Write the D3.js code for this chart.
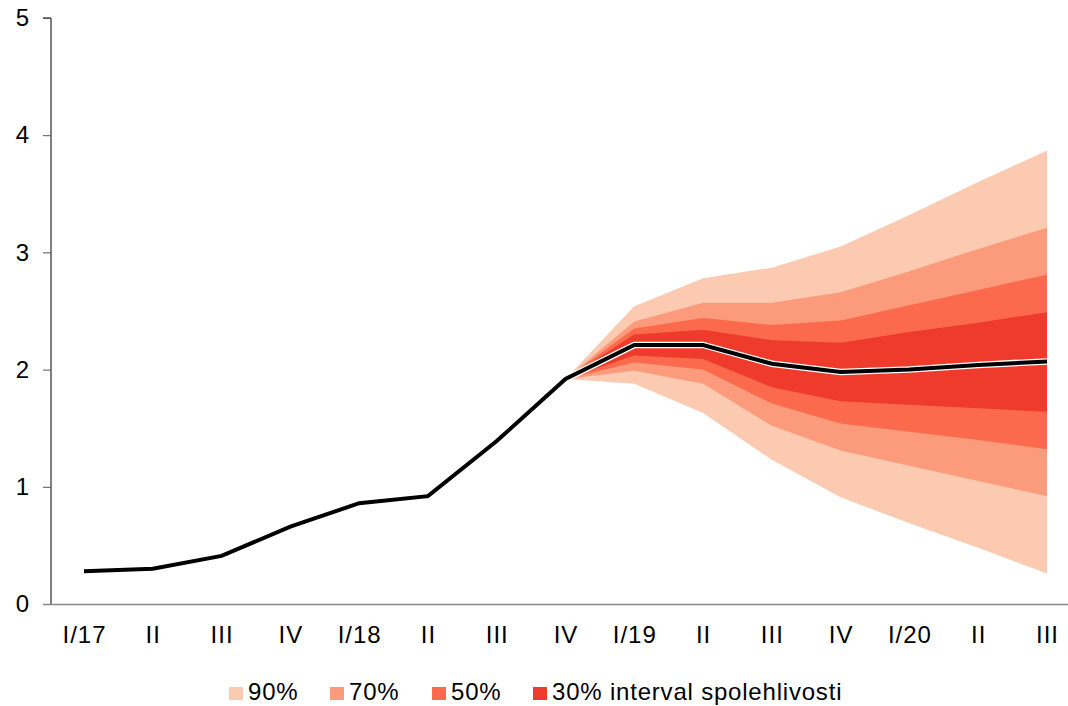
<!DOCTYPE html>
<html>
<head>
<meta charset="utf-8">
<script src="https://cdn.jsdelivr.net/npm/d3@7"></script>
<style>
  html, body { margin: 0; padding: 0; background: #fff; }
  svg { display: block; font-family: "Liberation Sans", Arial, sans-serif; }
</style>
</head>
<body>
<svg id="chart" width="1068" height="706"></svg>
<script>
// ---- data ----
const categories = ["I/17","II","III","IV","I/18","II","III","IV","I/19","II","III","IV","I/20","II","III"];
const lineValues = [0.28, 0.30, 0.41, 0.66, 0.86, 0.92, 1.39, 1.92, 2.21, 2.21, 2.05, 1.98, 2.00, 2.04, 2.07];
const yTicks = [0, 1, 2, 3, 4, 5];
// fan starts at index 7 (IV/18)
const fanStart = 7;
const hi90 = [1.92, 2.54, 2.78, 2.87, 3.05, 3.32, 3.60, 3.87];
const hi70 = [1.92, 2.41, 2.57, 2.57, 2.66, 2.84, 3.03, 3.21];
const hi50 = [1.92, 2.35, 2.44, 2.38, 2.42, 2.55, 2.68, 2.81];
const hi30 = [1.92, 2.30, 2.34, 2.25, 2.23, 2.32, 2.40, 2.49];
const lo30 = [1.92, 2.12, 2.09, 1.85, 1.73, 1.70, 1.67, 1.64];
const lo50 = [1.92, 2.06, 2.00, 1.71, 1.54, 1.47, 1.40, 1.32];
const lo70 = [1.92, 1.99, 1.88, 1.52, 1.31, 1.18, 1.05, 0.92];
const lo90 = [1.92, 1.88, 1.63, 1.23, 0.91, 0.69, 0.48, 0.26];
const bandLabels = ["90%", "70%", "50%", "30% interval spolehlivosti"];
const bandColors = ["#fccab1", "#fc9b7b", "#fb6a4c", "#ef3b2c"];

// ---- drawing ----
const svg = d3.select("#chart");
const x = d3.scalePoint().domain(d3.range(categories.length)).range([84, 1047]);
const y = d3.scaleLinear().domain([0, 5]).range([604, 18]);

const bands = [[lo90, hi90], [lo70, hi70], [lo50, hi50], [lo30, hi30]];
const area = d3.area()
  .x(d => x(d.i))
  .y0(d => y(d.lo))
  .y1(d => y(d.hi));

bands.forEach(([lo, hi], k) => {
  const pts = lo.map((v, j) => ({ i: fanStart + j, lo: v, hi: hi[j] }));
  svg.append("path")
    .attr("d", area(pts))
    .attr("fill", bandColors[k]);
});

// y axis
const yAxis = d3.axisLeft(y).tickValues(yTicks).tickSize(8).tickFormat(d3.format("d"));
const gy = svg.append("g").attr("transform", "translate(51,0)").call(yAxis);
gy.select(".domain").attr("stroke", "#000").attr("stroke-width", 1).attr("d", "M-8,18H0V604");
gy.selectAll(".tick line").attr("stroke", "#555");
gy.selectAll(".tick text").attr("font-size", 24).attr("fill", "#000").attr("x", -22)
  .attr("font-family", "Liberation Sans, Arial, sans-serif");

// x axis
const xAxis = d3.axisBottom(x).tickSize(0).tickFormat(i => categories[i]);
const gx = svg.append("g").attr("transform", "translate(0,604)").call(xAxis);
gx.select(".domain").attr("d", "M43,0.5H1068").attr("stroke", "#888").attr("stroke-width", 1.5);
gx.selectAll(".tick text").attr("font-size", 24).attr("letter-spacing", 1).attr("fill", "#000")
  .attr("dy", 0).attr("y", 39)
  .attr("font-family", "Liberation Sans, Arial, sans-serif");

// line with white halo on the forecast part
const pts = lineValues.map((v, i) => ({ v, i }));
const line = d3.line().x(d => x(d.i)).y(d => y(d.v));
svg.append("path")
  .attr("d", line(pts.filter(d => d.i >= fanStart)))
  .attr("fill", "none").attr("stroke", "#fff").attr("stroke-width", 6.5);
svg.append("path")
  .attr("d", line(pts))
  .attr("fill", "none").attr("stroke", "#000").attr("stroke-width", 4);

// legend
const legendX = [229, 330, 432, 533];
const lg = svg.append("g");
bandLabels.forEach((lab, k) => {
  lg.append("rect").attr("x", legendX[k]).attr("y", 687).attr("width", 14).attr("height", 13)
    .attr("fill", bandColors[k]);
  lg.append("text").attr("x", legendX[k] + 19).attr("y", 700).attr("font-size", 24)
    .attr("letter-spacing", 0.8).attr("fill", "#000").text(lab);
});
</script>
</body>
</html>
